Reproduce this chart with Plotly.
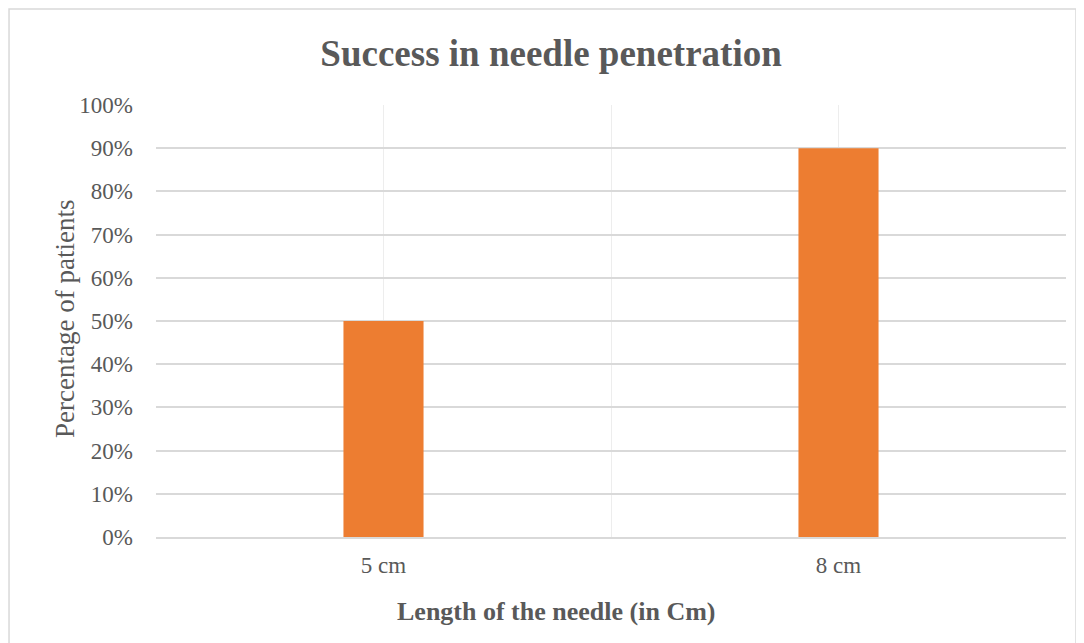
import plotly.graph_objects as go

categories = ["5 cm", "8 cm"]
values = [0.50, 0.90]
y_ticks = [0, 0.1, 0.2, 0.3, 0.4, 0.5, 0.6, 0.7, 0.8, 0.9, 1.0]

FONT = "Liberation Serif, Times New Roman, serif"
GRAY = "#595959"

x_pos = list(range(len(categories)))

fig = go.Figure(
    go.Bar(
        x=x_pos,
        y=values,
        width=0.176,
        marker=dict(color="#ED7D31", line=dict(width=0)),
        hoverinfo="skip",
    )
)

fig.update_layout(
    width=1076,
    height=635,
    paper_bgcolor="white",
    plot_bgcolor="white",
    margin=dict(l=148, r=18, t=97, b=106),
    showlegend=False,
    font=dict(family=FONT, color=GRAY),
    title=dict(
        text="<b>Success in needle penetration</b>",
        x=0.5047,
        xanchor="center",
        y=0.929,
        yanchor="middle",
        font=dict(family=FONT, size=37, color=GRAY),
    ),
    shapes=[
        dict(
            type="rect", xref="paper", yref="paper",
            x0=-0.1615, x1=1.011, y0=-0.3, y1=1.222,
            line=dict(color="#D9D9D9", width=1.5),
            fillcolor="rgba(0,0,0,0)", layer="below",
        )
    ],
    annotations=[
        dict(
            text="<b>Length of the needle (in Cm)</b>",
            xref="paper", yref="paper",
            x=0.4396, y=-0.1736,
            xanchor="center", yanchor="middle",
            showarrow=False,
            font=dict(family=FONT, size=26, color=GRAY),
        ),
        dict(
            text="Percentage of patients",
            xref="paper", yref="paper",
            x=-0.1, y=0.5046,
            xanchor="center", yanchor="middle",
            textangle=-90,
            showarrow=False,
            font=dict(family=FONT, size=27, color=GRAY),
        ),
    ],
)

fig.update_xaxes(
    range=[-0.5, 1.5],
    tickmode="array",
    tickvals=x_pos,
    ticktext=categories,
    tickfont=dict(family=FONT, size=23, color=GRAY),
    showgrid=True,
    gridcolor="#EDEDED",
    gridwidth=1,
    minor=dict(
        tickmode="array",
        tickvals=[-0.5, 0.5, 1.5],
        showgrid=True,
        gridcolor="#EDEDED",
        gridwidth=1,
        ticks="",
    ),
    ticks="",
    ticklabelstandoff=7,
    zeroline=False,
    showline=True,
    linecolor="#D9D9D9",
    linewidth=1.5,
)

fig.update_yaxes(
    range=[0, 1.0],
    tickmode="array",
    tickvals=y_ticks,
    tickformat=".0%",
    tickfont=dict(family=FONT, size=23, color=GRAY),
    showgrid=True,
    gridcolor="#D9D9D9",
    gridwidth=1.5,
    zeroline=False,
    ticks="",
    ticklabelstandoff=22,
)

fig.write_html("out.html")
